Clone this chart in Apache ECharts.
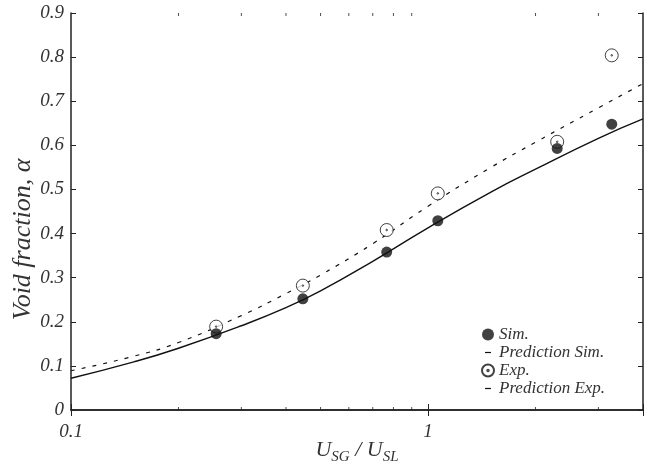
<!DOCTYPE html>
<html>
<head>
<meta charset="utf-8">
<script src="https://cdn.jsdelivr.net/npm/echarts@6/dist/echarts.min.js"></script>
<style>
  html, body { margin: 0; padding: 0; background: #fff; }
  #main { width: 665px; height: 468px; }
</style>
</head>
<body>
<div id="main"></div>
<script>
// 测点 (simulation / experiment)
var ratioX = [0.255, 0.446, 0.766, 1.065, 2.3, 3.27];
var simY = [0.173, 0.252, 0.358, 0.429, 0.593, 0.648];
var expY = [0.189, 0.282, 0.408, 0.491, 0.608, 0.804];

// 预测曲线
var predX = [0.1, 0.15, 0.2, 0.3, 0.4, 0.5, 0.7, 1, 1.5, 2, 3, 4];
var predSimY = [0.072, 0.109, 0.14, 0.191, 0.232, 0.27, 0.337, 0.413, 0.494, 0.546, 0.616, 0.66];
var predExpY = [0.089, 0.122, 0.153, 0.214, 0.264, 0.306, 0.377, 0.462, 0.55, 0.607, 0.685, 0.74];

// log axis minor ticks
var minorTicks = [0.2, 0.3, 0.4, 0.5, 0.6, 0.7, 0.8, 0.9, 2, 3];

function pairs(xs, ys) {
    var out = [];
    for (var i = 0; i < xs.length; i++) out.push([xs[i], ys[i]]);
    return out;
}

var FONT = "Liberation Serif";
var ink = "#111";
var ringDot = "path://M0,-10A10,10,0,1,1,0,10A10,10,0,1,1,0,-10ZM0,-1.2A1.2,1.2,0,1,1,0,1.2A1.2,1.2,0,1,1,0,-1.2Z";
var dashIcon = "path://M0,0M12,12M3,5.4H9V6.6H3Z";

var myChart = echarts.init(document.getElementById('main'));

var option = {
    backgroundColor: "#fff",
    animation: false,
    grid: { left: 71, right: 22, top: 13, bottom: 58, outerBoundsMode: "none", containLabel: false },
    legend: {
        orient: "vertical",
        left: 476,
        top: 321,
        itemWidth: 12,
        itemHeight: 12,
        itemGap: 1,
        textStyle: { fontFamily: FONT, fontStyle: "italic", fontSize: 17, color: "#333" },
        data: [
            { name: "Sim.", icon: "circle" },
            { name: "Prediction Sim.", icon: dashIcon },
            { name: "Exp.", icon: ringDot },
            { name: "Prediction Exp.", icon: dashIcon }
        ]
    },
    xAxis: [
        {
            type: "log",
            logBase: 10,
            min: 0.1,
            max: 4,
            name: "{a|U}{b|SG}{a| / U}{b|SL}",
            nameLocation: "middle",
            nameGap: 30,
            nameMoveOverlap: false,
            nameTextStyle: {
                rich: {
                    a: { fontFamily: FONT, fontStyle: "italic", fontSize: 22, color: "#333", lineHeight: 20 },
                    b: { fontFamily: FONT, fontStyle: "italic", fontSize: 15, color: "#333", lineHeight: 14, padding: [14, 0, 0, 0] }
                }
            },
            axisLine: { lineStyle: { color: "#222", width: 1.5 } },
            axisTick: { inside: true, length: 6, lineStyle: { color: "#222" } },
            splitLine: { show: false },
            axisLabel: {
                fontFamily: FONT, fontStyle: "italic", fontSize: 19, color: "#333", margin: 12,
                showMinLabel: true,
                formatter: function (v) {
                    if (v < 0.5) return "0.1";
                    if (v < 2) return "1";
                    return "";
                }
            }
        },
        {
            type: "log",
            logBase: 10,
            min: 0.1,
            max: 4,
            position: "top",
            axisLine: { lineStyle: { color: "#222", width: 1.5 } },
            axisTick: { inside: true, length: 6, lineStyle: { color: "#222" } },
            axisLabel: { show: false },
            splitLine: { show: false }
        }
    ],
    yAxis: [
        {
            type: "value",
            min: 0,
            max: 0.9,
            interval: 0.1,
            name: "Void fraction, α",
            nameLocation: "middle",
            nameGap: 35,
            nameMoveOverlap: false,
            nameTextStyle: { fontFamily: FONT, fontStyle: "italic", fontSize: 26, color: "#333", padding: [0, 56, 0, 0] },
            axisLine: { lineStyle: { color: "#222", width: 1.5 } },
            axisTick: { inside: true, length: 5, lineStyle: { color: "#222" } },
            splitLine: { show: false },
            axisLabel: { fontFamily: FONT, fontStyle: "italic", fontSize: 19, color: "#333", margin: 7 }
        },
        {
            type: "value",
            min: 0,
            max: 0.9,
            interval: 0.1,
            position: "right",
            axisLine: { show: true, lineStyle: { color: "#222", width: 1.5 } },
            axisTick: { show: true, inside: true, length: 5, lineStyle: { color: "#222" } },
            axisLabel: { show: false },
            splitLine: { show: false }
        }
    ],
    series: [
        {
            name: "Sim.",
            type: "scatter",
            data: pairs(ratioX, simY),
            symbol: "circle",
            symbolSize: 11,
            itemStyle: { color: ink },
            z: 5
        },
        {
            name: "Prediction Sim.",
            type: "line",
            data: pairs(predX, predSimY),
            smooth: 0.5,
            showSymbol: false,
            color: ink,
            itemStyle: { color: ink },
            lineStyle: { color: ink, width: 1.4 },
            z: 3
        },
        {
            name: "Exp.",
            type: "scatter",
            data: pairs(ratioX, expY),
            symbol: ringDot,
            symbolSize: 13,
            itemStyle: { color: "#fff", borderColor: ink, borderWidth: 1 },
            z: 4
        },
        {
            name: "Prediction Exp.",
            type: "line",
            data: pairs(predX, predExpY),
            smooth: 0.5,
            showSymbol: false,
            color: ink,
            itemStyle: { color: ink },
            lineStyle: { color: ink, width: 1.2, type: [4, 7] },
            z: 3
        },
        // minor ticks bottom / top
        {
            type: "scatter",
            silent: true,
            data: minorTicks.map(function (v) { return [v, 0]; }),
            symbol: "rect",
            symbolSize: [1, 3],
            symbolOffset: [0, -1.5],
            itemStyle: { color: "#222" },
            clip: false,
            z: 6
        },
        {
            type: "scatter",
            silent: true,
            data: minorTicks.map(function (v) { return [v, 0.9]; }),
            symbol: "rect",
            symbolSize: [1, 3],
            symbolOffset: [0, 1.5],
            itemStyle: { color: "#222" },
            clip: false,
            z: 6
        }
    ]
};

myChart.setOption(option);
</script>
</body>
</html>
